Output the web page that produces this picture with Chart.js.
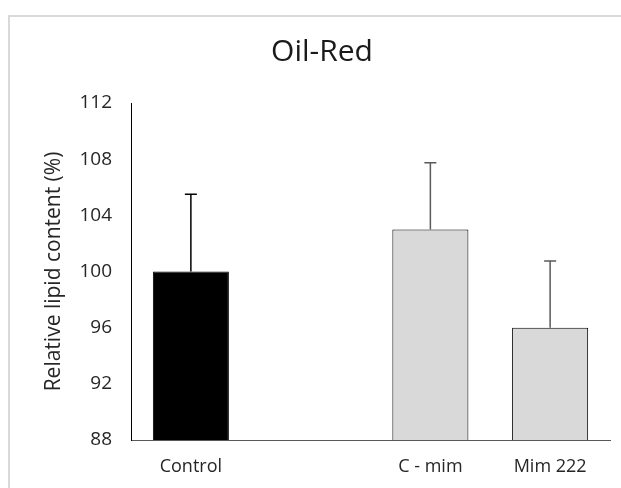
<!DOCTYPE html>
<html>
<head>
<meta charset="utf-8">
<style>
  html, body { margin: 0; padding: 0; background: #fff; }
  #wrap { width: 621px; height: 488px; }
</style>
</head>
<body>
<div id="wrap">
  <canvas id="myChart" width="621" height="488"></canvas>
</div>
<script src="https://cdn.jsdelivr.net/npm/chart.js"></script>
<script>

// data
const categories = ['Control', '', 'C - mim', 'Mim 222'];
const lipidMeans = [100, null, 103, 96];
const lipidErrors = [5.5, null, 4.75, 4.75];
const yTicks = [88, 92, 96, 100, 104, 108, 112];

const FONT = 'Open Sans';

// light frame round the whole chart
const framePlugin = {
  id: 'frame',
  beforeDraw(chart) {
    const ctx = chart.ctx;
    ctx.save();
    ctx.fillStyle = '#fff';
    ctx.fillRect(0, 0, chart.width, chart.height);
    ctx.strokeStyle = '#d9d9d9';
    ctx.lineWidth = 2;
    ctx.strokeRect(9, 16, chart.width + 20, chart.height + 20);
    ctx.restore();
  },
  // the title sits a bit right of the canvas centre
  afterLayout(chart) {
    chart.titleBlock.left += 17;
    chart.titleBlock.right += 17;
  }
};

// upper error bars with a small cap
const errorBarPlugin = {
  id: 'errorBars',
  afterDatasetsDraw(chart) {
    const ctx = chart.ctx;
    const yScale = chart.scales.y;
    const meta = chart.getDatasetMeta(0);
    ctx.save();
    meta.data.forEach(function(bar, i) {
      const v = lipidMeans[i];
      const e = lipidErrors[i];
      if (v == null || e == null) return;
      const yTop = yScale.getPixelForValue(v + e);
      ctx.strokeStyle = i === 0 ? '#000' : '#595959';
      ctx.lineWidth = 1.5;
      ctx.beginPath();
      ctx.moveTo(bar.x, bar.y);
      ctx.lineTo(bar.x, yTop);
      ctx.moveTo(bar.x - 6, yTop);
      ctx.lineTo(bar.x + 6, yTop);
      ctx.stroke();
    });
    ctx.restore();
  }
};

const data = {
  labels: categories,
  datasets: [{
    data: lipidMeans,
    backgroundColor: ['#000', '#d9d9d9', '#d9d9d9', '#d9d9d9'],
    borderColor: '#000',
    borderWidth: 1,
    borderSkipped: 'bottom',
    categoryPercentage: 1,
    barPercentage: 0.635
  }]
};

const config = {
  type: 'bar',
  data: data,
  options: {
    responsive: false,
    animation: false,
    layout: { padding: { top: 20, left: 0, right: 11, bottom: 0 } },
    plugins: {
      legend: { display: false },
      tooltip: { enabled: false },
      title: {
        display: true,
        text: 'Oil-Red',
        color: '#1a1a1a',
        font: { family: FONT, size: 30, weight: 'normal' },
        padding: { top: 14, bottom: 33 }
      }
    },
    scales: {
      x: {
        grid: { display: false, drawTicks: false },
        border: { display: true, color: '#595959', width: 1 },
        ticks: {
          color: '#262626',
          padding: 16,
          font: { family: FONT, size: 18 }
        },
        afterFit(scale) { scale.height = 48; }
      },
      y: {
        min: 88,
        max: 112,
        grid: { display: false, drawTicks: false },
        border: { display: true, color: '#000', width: 1 },
        afterBuildTicks(scale) {
          scale.ticks = yTicks.map(function(v) { return { value: v }; });
        },
        ticks: {
          color: '#262626',
          padding: 19,
          font: { family: FONT, size: 19 }
        },
        title: {
          display: true,
          text: 'Relative lipid content (%)',
          color: '#262626',
          font: { family: FONT, size: 21 },
          padding: { top: 41, bottom: 0 }
        },
        afterFit(scale) { scale.width = 131; }
      }
    }
  },
  plugins: [framePlugin, errorBarPlugin]
};

var chart = new Chart('myChart', config);

</script>
</body>
</html>
